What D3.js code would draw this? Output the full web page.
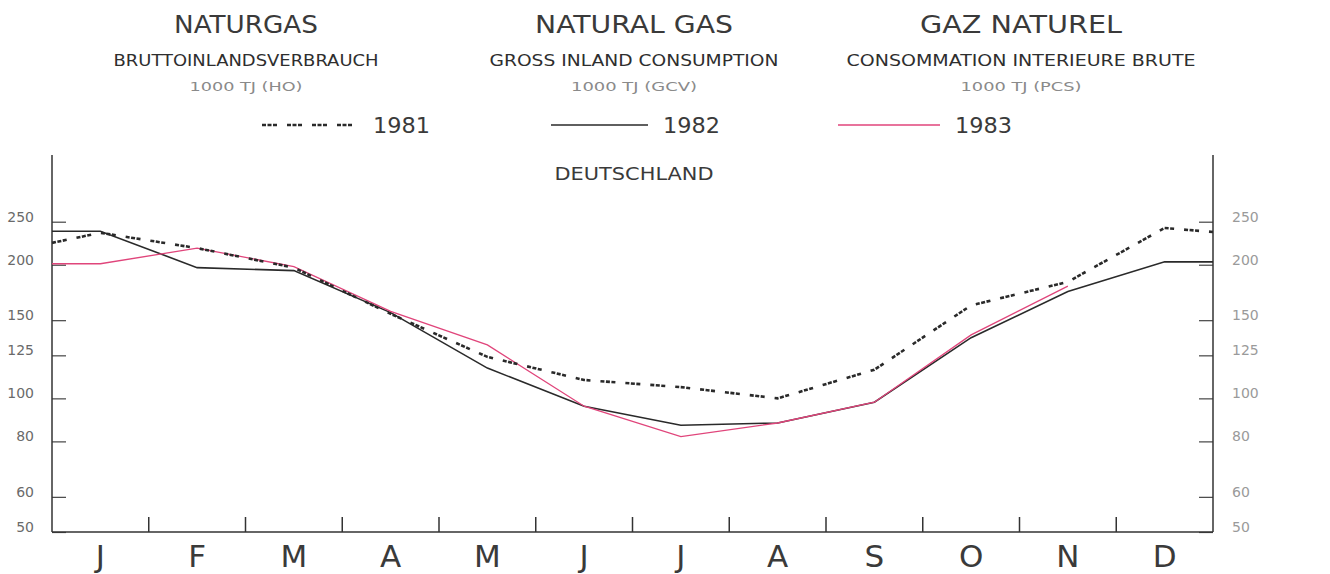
<!DOCTYPE html>
<html>
<head>
<meta charset="utf-8">
<script src="https://d3js.org/d3.v7.min.js"></script>
<style>
  body { margin: 0; background: #fff; }
  text { font-family: "DejaVu Sans", "Liberation Sans", sans-serif; }
</style>
</head>
<body>
<div class="chart"></div>
<script>
// data (1000 TJ), log scale
var months = ["J", "F", "M", "A", "M", "J", "J", "A", "S", "O", "N", "D"]
var v1981 = [236, 218, 197, 155, 124, 110, 106, 100, 116, 162, 183, 242]
var v1982 = [238, 197, 194, 156, 117, 96, 87, 88, 98, 137, 174, 203]
var v1983 = [201, 218, 198, 157, 132, 96, 82, 88, 98, 139, 179]
// values where the curves meet the left / right axis
var edges1981 = [224, 237]
var edges1982 = [238, 203]
var edges1983 = [201]
var yTicks = [50, 60, 80, 100, 125, 150, 200, 250]

// set the dimensions
var width = 1330
    height = 574
    plotLeft = 52
    plotRight = 1213
    plotBottom = 532
    plotTop = 155

var svg = d3.select(".chart")
  .append("svg")
    .attr("width", width)
    .attr("height", height)

var x = d3.scaleBand()
  .domain(d3.range(months.length))
  .range([plotLeft, plotRight])

var y = d3.scaleLog()
  .domain([50, 250])
  .range([plotBottom, 221.7])

// titles
var titles = [
  {x: 246, t: "NATURGAS", s: "BRUTTOINLANDSVERBRAUCH", u: "1000 TJ (HO)", tw: 144, sw: 265, uw: 113},
  {x: 634, t: "NATURAL GAS", s: "GROSS INLAND CONSUMPTION", u: "1000 TJ (GCV)", tw: 198, sw: 289, uw: 126},
  {x: 1021, t: "GAZ NATUREL", s: "CONSOMMATION INTERIEURE BRUTE", u: "1000 TJ (PCS)", tw: 202, sw: 349, uw: 121}
]
titles.forEach(function(d) {
  svg.append("text").attr("x", d.x).attr("y", 33).attr("text-anchor", "middle")
    .attr("textLength", d.tw).attr("lengthAdjust", "spacingAndGlyphs")
    .style("font-size", "24px").style("fill", "#3a3a3a").text(d.t)
  svg.append("text").attr("x", d.x).attr("y", 66).attr("text-anchor", "middle")
    .attr("textLength", d.sw).attr("lengthAdjust", "spacingAndGlyphs")
    .style("font-size", "15px").style("fill", "#2e2e2e").text(d.s)
  svg.append("text").attr("x", d.x).attr("y", 91).attr("text-anchor", "middle")
    .attr("textLength", d.uw).attr("lengthAdjust", "spacingAndGlyphs")
    .style("font-size", "12px").style("fill", "#8a8a8a").text(d.u)
})

svg.append("text").attr("x", 634).attr("y", 180).attr("text-anchor", "middle")
  .attr("textLength", 159).attr("lengthAdjust", "spacingAndGlyphs")
  .style("font-size", "18px").style("fill", "#3a3a3a").text("DEUTSCHLAND")

// line styles
var styles = {
  "1981": {stroke: "#2a2a2a", width: 2.6, dash: "4,1.5,4,1.5,4,10"},
  "1982": {stroke: "#2a2a2a", width: 1.6, dash: null},
  "1983": {stroke: "#e0457b", width: 1.3, dash: null}
}

// legend
var legend = [
  {key: "1981", x1: 262, x2: 352, tx: 373},
  {key: "1982", x1: 551, x2: 648, tx: 663},
  {key: "1983", x1: 838, x2: 940, tx: 955}
]
legend.forEach(function(d) {
  var st = styles[d.key]
  svg.append("line").attr("x1", d.x1).attr("x2", d.x2).attr("y1", 125).attr("y2", 125)
    .attr("stroke", st.stroke).attr("stroke-width", st.width)
    .attr("stroke-dasharray", st.dash)
  svg.append("text").attr("x", d.tx).attr("y", 133)
    .attr("textLength", 57).attr("lengthAdjust", "spacingAndGlyphs")
    .style("font-size", "22px").style("fill", "#3a3a3a").text(d.key)
})

// axes
var axL = svg.append("g")
  .attr("transform", "translate(" + plotLeft + ",0)")
  .call(d3.axisLeft(y).tickValues(yTicks).tickFormat(d3.format("d")).tickSize(-14).tickSizeOuter(0).tickPadding(18))
var axR = svg.append("g")
  .attr("transform", "translate(" + plotRight + ",0)")
  .call(d3.axisRight(y).tickValues(yTicks).tickFormat(d3.format("d")).tickSize(-14).tickSizeOuter(0).tickPadding(19))
axL.selectAll("text").style("fill", "#6a6a6a")
axR.selectAll("text").style("fill", "#9a9a9a")
;[axL, axR].forEach(function(a) {
  a.select(".domain").remove()
  a.selectAll("line").attr("stroke", "#444").attr("stroke-width", 1.2)
  a.selectAll("text").attr("dy", "-0.05em").style("font-size", "14px").style("font-family", "DejaVu Sans, sans-serif")
})

svg.append("line").attr("x1", plotLeft).attr("x2", plotLeft).attr("y1", plotTop).attr("y2", plotBottom)
  .attr("stroke", "#333").attr("stroke-width", 1.5)
svg.append("line").attr("x1", plotRight).attr("x2", plotRight).attr("y1", plotTop).attr("y2", plotBottom)
  .attr("stroke", "#333").attr("stroke-width", 1.5)
svg.append("line").attr("x1", plotLeft).attr("x2", plotRight).attr("y1", plotBottom).attr("y2", plotBottom)
  .attr("stroke", "#333").attr("stroke-width", 1.5)

// month ticks between bands
svg.selectAll(".mtick")
  .data(d3.range(1, months.length))
  .enter()
  .append("line")
    .attr("x1", function(i) { return x(i) })
    .attr("x2", function(i) { return x(i) })
    .attr("y1", plotBottom)
    .attr("y2", plotBottom - 15)
    .attr("stroke", "#333").attr("stroke-width", 1.5)

svg.selectAll(".mlabel")
  .data(months)
  .enter()
  .append("text")
    .attr("x", function(d, i) { return x(i) + x.bandwidth() / 2 })
    .attr("y", 567)
    .attr("text-anchor", "middle")
    .style("font-size", "31px")
    .style("fill", "#3a3a3a")
    .text(function(d) { return d })

// build the series: axis edge + monthly points
function points(vals, edges) {
  var p = [[plotLeft, y(edges[0])]]
  vals.forEach(function(v, i) { p.push([x(i) + x.bandwidth() / 2, y(v)]) })
  if (edges.length > 1) p.push([plotRight, y(edges[1])])
  return p
}
var series = [
  {key: "1982", pts: points(v1982, edges1982)},
  {key: "1983", pts: points(v1983, edges1983)},
  {key: "1981", pts: points(v1981, edges1981)}
]
var line = d3.line()
series.forEach(function(s) {
  var st = styles[s.key]
  svg.append("path")
    .attr("d", line(s.pts))
    .attr("fill", "none")
    .attr("stroke", st.stroke)
    .attr("stroke-width", st.width)
    .attr("stroke-dasharray", st.dash)
})
</script>
</body>
</html>
